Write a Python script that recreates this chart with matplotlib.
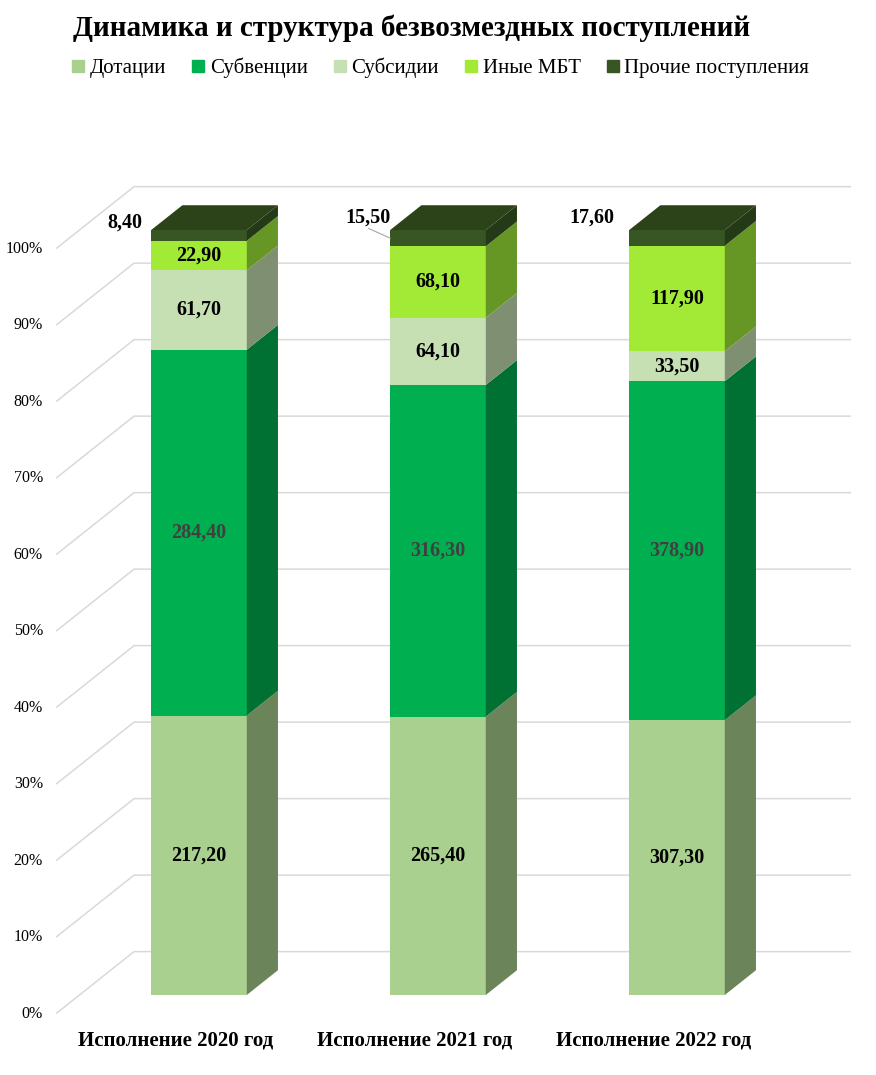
import matplotlib
matplotlib.use("Agg")
import matplotlib.pyplot as plt
from matplotlib.lines import Line2D
import numpy as np

# data
categories = ["Исполнение 2020 год", "Исполнение 2021 год", "Исполнение 2022 год"]
series = ["Дотации", "Субвенции", "Субсидии", "Иные МБТ", "Прочие поступления"]
dotacii = [217.2, 265.4, 307.3]
subvencii = [284.4, 316.3, 378.9]
subsidii = [61.7, 64.1, 33.5]
inye_mbt = [22.9, 68.1, 117.9]
prochie = [8.4, 15.5, 17.6]
y_ticks = [0, 10, 20, 30, 40, 50, 60, 70, 80, 90, 100]

# styles
front_colors = ["#A9D08E", "#00B050", "#C6E0B4", "#A2EA36", "#375623"]
side_colors = ["#6B845A", "#007033", "#7F8F72", "#669624", "#243A16"]
top_color = "#2C4319"
label_colors = ["black", "#404040", "black", "black", "black"]
grid_color = "#D9D9D9"
SERIF = ["Liberation Serif", "DejaVu Serif"]

# 3d projection: depth d in [0, 1], front of floor d=0, back wall d=1
DX, DY = 0.326, 8.1
BAR_D0, BAR_D1 = 0.3, 0.7
BAR_W = 0.4


def proj(x, y, d):
    return x + (d - BAR_D0) * DX, y + (d - BAR_D0) * DY


fig = plt.figure(figsize=(8.76, 10.75), dpi=100)
ax = fig.add_axes([0, 0, 1, 1])
ax.set_xlim(-0.8326, 2.8326)
ax.set_ylim(-10.46, 130.07)
ax.axis("off")

x_left, x_right = -0.5, 2.5

# walls / gridlines
for t in y_ticks:
    p0 = proj(x_left, t, 0)
    p1 = proj(x_left, t, 1)
    p2 = proj(x_right, t, 1)
    ax.plot([p0[0], p1[0], p2[0]], [p0[1], p1[1], p2[1]], color=grid_color,
            lw=1.1, zorder=1, solid_capstyle="butt")
    ax.text(p0[0] - 0.055, p0[1], f"{t}%", ha="right", va="center",
            fontsize=11.5, family=SERIF, color="black")

data = np.array([dotacii, subvencii, subsidii, inye_mbt, prochie])
totals = data.sum(axis=0)
pct = data / totals * 100

# label offsets for the small top segment (outside labels)
out_dx = [-0.035, 0.0, -0.06]
out_dy = [1.0, 1.6, 1.6]

for i, cat in enumerate(categories):
    xl = i - BAR_W / 2
    xr = i + BAR_W / 2
    bottom = 0.0
    for s in range(len(series)):
        h = pct[s, i]
        top = bottom + h
        # front face
        ax.fill([xl, xr, xr, xl], [bottom, bottom, top, top],
                color=front_colors[s], lw=0, zorder=3)
        # side face
        a = proj(xr, bottom, BAR_D0)
        b = proj(xr, bottom, BAR_D1)
        c = proj(xr, top, BAR_D1)
        e = proj(xr, top, BAR_D0)
        ax.fill([a[0], b[0], c[0], e[0]], [a[1], b[1], c[1], e[1]],
                color=side_colors[s], lw=0, zorder=3)
        val = f"{data[s, i]:.2f}".replace(".", ",")
        if s < len(series) - 1:
            ax.text(i, bottom + h / 2, val, ha="center", va="center",
                    fontsize=14.5, fontweight="bold", family=SERIF,
                    color=label_colors[s], zorder=5)
        else:
            tx = xl + out_dx[i]
            ty = top + out_dy[i]
            ax.text(tx, ty, val, ha="right", va="center", fontsize=14.5,
                    fontweight="bold", family=SERIF, color="black", zorder=5)
            if out_dx[i] >= 0:
                ax.plot([tx - 0.09, xl], [ty - 1.4, bottom + h / 2],
                        color="#A6A6A6", lw=0.8, zorder=4)
        bottom = top
    # top face
    p = [proj(xl, 100, BAR_D0), proj(xr, 100, BAR_D0),
         proj(xr, 100, BAR_D1), proj(xl, 100, BAR_D1)]
    ax.fill([q[0] for q in p], [q[1] for q in p], color=top_color, lw=0, zorder=3)
    lx, _ = proj(i, 0, 0)
    ax.text(lx, -5.9, cat, ha="center", va="center", fontsize=15,
            fontweight="bold", family=SERIF, color="black")

fig.text(0.47, 0.974, "Динамика и структура безвозмездных поступлений",
         ha="center", va="center", fontsize=21, fontweight="bold", family=SERIF)

handles = [Line2D([], [], marker="s", linestyle="none", markersize=8,
                  markerfacecolor=c, markeredgecolor=c) for c in front_colors]
fig.legend(handles, series, loc="center", bbox_to_anchor=(0.503, 0.937), ncol=5,
           frameon=False, handlelength=0.6, handletextpad=0.25, columnspacing=1.25,
           prop={"family": SERIF, "size": 15})

fig.savefig("out.png", dpi=100)
